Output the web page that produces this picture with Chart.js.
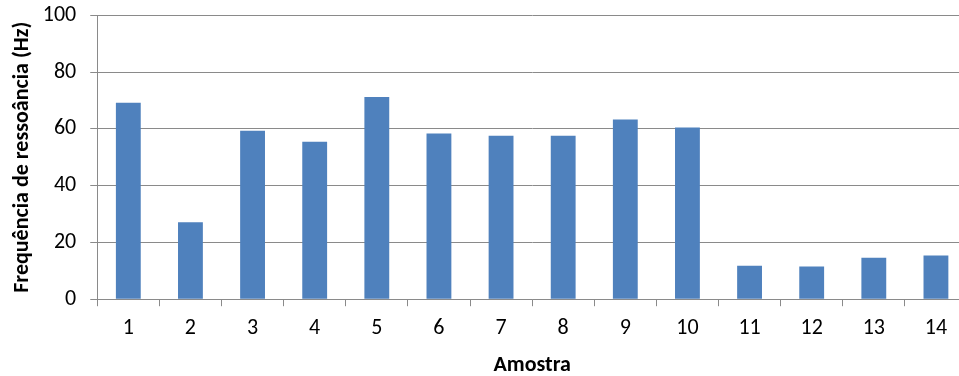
<!DOCTYPE html>
<html>
<head>
    <meta charset="UTF-8">
    <title>Frequência de ressoância</title>
    <script src="https://cdn.jsdelivr.net/npm/chart.js"></script>
    <style>
        html, body { margin: 0; padding: 0; background: #fff; }
        /* the plot runs a few pixels past the right edge, as in the original */
        #wrap { width: 959px; height: 376px; overflow: hidden; }
        #box { width: 967px; height: 376px; }
    </style>
</head>
<body>
    <div id="wrap">
        <div id="box">
            <canvas id="myChart"></canvas>
        </div>
    </div>

    <script>
        // amostras e frequências
        const amostras = ['1', '2', '3', '4', '5', '6', '7', '8', '9', '10', '11', '12', '13', '14'];
        const frequencias = [69.2, 27.1, 59.3, 55.5, 71.2, 58.4, 57.6, 57.6, 63.3, 60.5, 11.8, 11.5, 14.6, 15.4];
        const yTicks = [0, 20, 40, 60, 80, 100];

        const fontFamily = 'Carlito, Lato, sans-serif';
        const gridColor = '#8a8a8a';

        const ctx = document.getElementById('myChart').getContext('2d');
        new Chart(ctx, {
            type: 'bar',
            data: {
                labels: amostras,
                datasets: [{
                    label: 'Frequência',
                    data: frequencias,
                    backgroundColor: '#4f81bd',
                    borderWidth: 0,
                    barPercentage: 0.4,
                    categoryPercentage: 1
                }]
            },
            options: {
                responsive: true,
                maintainAspectRatio: false,
                animation: false,
                layout: { padding: { top: 0, left: 0, bottom: -3, right: 0 } },
                plugins: {
                    legend: { display: false },
                    tooltip: { enabled: false }
                },
                scales: {
                    x: {
                        offset: true,
                        grid: {
                            offset: true,
                            drawOnChartArea: false,
                            drawTicks: true,
                            tickLength: 7,
                            color: gridColor,
                            lineWidth: 1
                        },
                        border: { color: gridColor, width: 1 },
                        ticks: {
                            color: '#000',
                            padding: 9,
                            maxRotation: 0,
                            font: { family: fontFamily, size: 22 }
                        },
                        title: {
                            display: true,
                            text: 'Amostra',
                            color: '#000',
                            padding: { top: 2, bottom: 0 },
                            font: { family: fontFamily, size: 22, weight: 'bold' }
                        }
                    },
                    y: {
                        min: 0,
                        max: 100,
                        afterBuildTicks: (axis) => {
                            axis.ticks = yTicks.map(v => ({ value: v }));
                        },
                        grid: {
                            color: gridColor,
                            lineWidth: 1,
                            tickLength: 7
                        },
                        border: { color: gridColor, width: 1 },
                        ticks: {
                            color: '#000',
                            padding: 14,
                            // small lineHeight keeps the top padding tight (single-line labels)
                            font: { family: fontFamily, size: 22, lineHeight: 0.12 }
                        },
                        title: {
                            display: true,
                            text: 'Frequência de ressoância (Hz)',
                            color: '#000',
                            padding: { top: 8.8, bottom: -6.4 },
                            font: { family: fontFamily, size: 22, weight: 'bold' }
                        }
                    }
                }
            }
        });
    </script>
</body>
</html>
